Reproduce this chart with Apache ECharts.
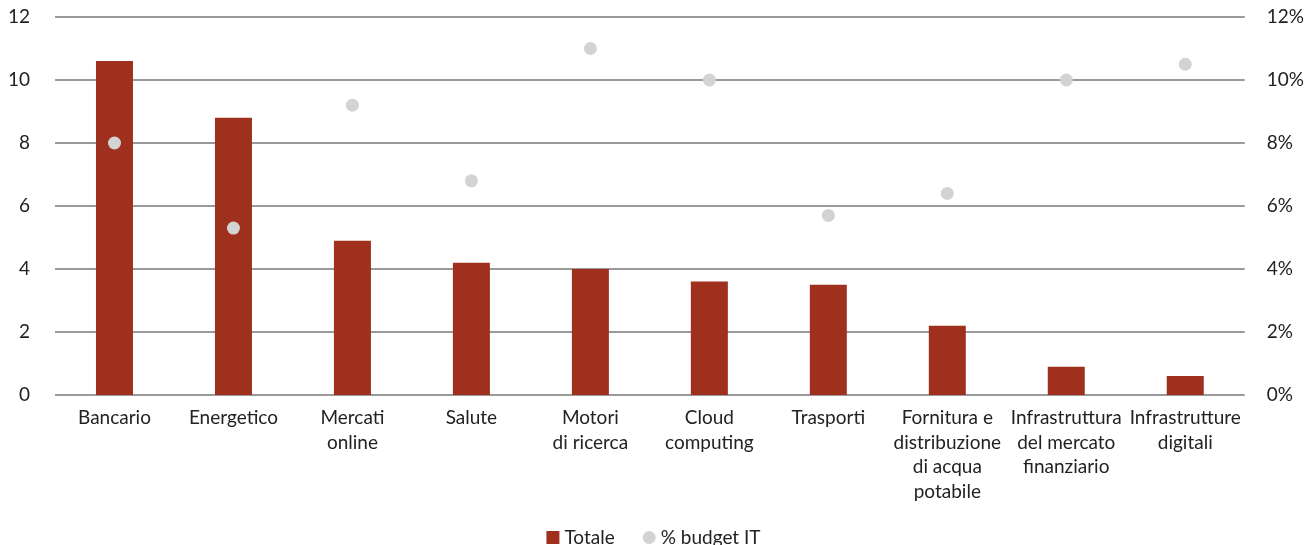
<!DOCTYPE html>
<html>
<head>
<meta charset="utf-8">
<script src="https://cdn.jsdelivr.net/npm/echarts@6/dist/echarts.min.js"></script>
<style>
  html, body { margin: 0; padding: 0; background: #fff; }
  #chart { width: 1307px; height: 545px; }
</style>
</head>
<body>
<div id="chart"></div>
<script>
// Settori, totale e quota di budget IT
const categories = [
  'Bancario', 'Energetico', 'Mercati\nonline', 'Salute', 'Motori\ndi ricerca',
  'Cloud\ncomputing', 'Trasporti', 'Fornitura e\ndistribuzione\ndi acqua\npotabile',
  'Infrastruttura\ndel mercato\nfinanziario', 'Infrastrutture\ndigitali'
];
const totale = [10.6, 8.8, 4.9, 4.2, 4.0, 3.6, 3.5, 2.2, 0.9, 0.6];
const budgetIT = [8.0, 5.3, 9.2, 6.8, 11.0, 10.0, 5.7, 6.4, 10.0, 10.5];
const leftTicks = [0, 2, 4, 6, 8, 10, 12];
const rightTicks = ['0%', '2%', '4%', '6%', '8%', '10%', '12%'];

const FONT = 'Lato, "Open Sans", sans-serif';
const TEXT = '#222';

const chart = echarts.init(document.getElementById('chart'), null, { renderer: 'canvas' });
chart.setOption({
  animation: false,
  textStyle: { fontFamily: FONT },
  grid: { left: 55, right: 62, top: 17, bottom: 150 },
  legend: {
    bottom: -7,
    left: 'center',
    itemGap: 28,
    itemWidth: 13,
    itemHeight: 13,
    textStyle: { fontFamily: FONT, fontSize: 19, color: TEXT },
    data: [
      { name: 'Totale', icon: 'rect' },
      { name: '% budget IT', icon: 'circle' }
    ]
  },
  xAxis: {
    type: 'category',
    data: categories,
    axisLine: { show: false },
    axisTick: { show: false },
    axisLabel: {
      interval: 0,
      margin: 11,
      fontFamily: FONT,
      fontSize: 19,
      lineHeight: 24.5,
      color: TEXT
    }
  },
  yAxis: [
    {
      type: 'value',
      min: 0, max: 12, interval: 2,
      axisLine: { show: false },
      axisTick: { show: false },
      splitLine: { lineStyle: { color: '#9a9a9a', width: 2 } },
      axisLabel: {
        margin: 25,
        fontFamily: FONT, fontSize: 19, color: TEXT,
        formatter: v => String(leftTicks[Math.round(v / 2)])
      }
    },
    {
      type: 'value',
      min: 0, max: 12, interval: 2,
      axisLine: { show: false },
      axisTick: { show: false },
      splitLine: { show: false },
      axisLabel: {
        margin: 22,
        fontFamily: FONT, fontSize: 19, color: TEXT,
        formatter: v => rightTicks[Math.round(v / 2)]
      }
    }
  ],
  series: [
    {
      name: 'Totale',
      type: 'bar',
      data: totale,
      barWidth: 37,
      itemStyle: { color: '#A0301E' }
    },
    {
      name: '% budget IT',
      type: 'scatter',
      yAxisIndex: 1,
      data: budgetIT,
      symbol: 'circle',
      symbolSize: 13,
      itemStyle: { color: '#D3D3D3', opacity: 1 }
    }
  ]
});
</script>
</body>
</html>
